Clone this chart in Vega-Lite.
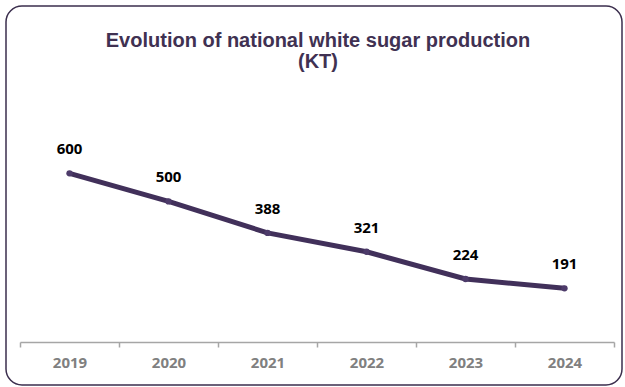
{
  "$schema": "https://vega.github.io/schema/vega-lite/v6.json",
  "width": 616,
  "height": 379,
  "autosize": {"type": "none"},
  "padding": {"left": 6, "top": 6, "right": 3, "bottom": 2},
  "background": "white",
  "view": {"stroke": "#3b2e4d", "strokeWidth": 1.5, "cornerRadius": 16, "fill": "white"},
  "title": {
    "text": ["Evolution of national white sugar production", "(KT)"],
    "font": "Liberation Sans",
    "fontSize": 20,
    "fontWeight": "bold",
    "color": "#403152",
    "anchor": "middle",
    "offset": -66,
    "lineHeight": 21,
    "dx": 4
  },
  "data": {
    "values": [
      {"year": "2019", "value": 600},
      {"year": "2020", "value": 500},
      {"year": "2021", "value": 388},
      {"year": "2022", "value": 321},
      {"year": "2023", "value": 224},
      {"year": "2024", "value": 191}
    ]
  },
  "encoding": {
    "x": {
      "field": "year",
      "type": "ordinal",
      "bandPosition": 0.5,
      "scale": {"type": "band", "range": [14, 608], "paddingInner": 0, "paddingOuter": 0},
      "axis": {
        "title": null,
        "tickBand": "extent",
        "grid": false,
        "labelAngle": 0,
        "domainColor": "#a6a6a6",
        "domainWidth": 1.5,
        "tickColor": "#a6a6a6",
        "tickWidth": 1.5,
        "tickSize": 5,
        "labelFont": "Open Sans",
        "labelFontSize": 15,
        "labelFontWeight": "bold",
        "labelColor": "#808080",
        "labelPadding": 8,
        "offset": -43
      }
    },
    "y": {
      "field": "value",
      "type": "quantitative",
      "scale": {"domain": [0, 1195], "range": [336, 0]},
      "axis": null
    }
  },
  "layer": [
    {"mark": {"type": "line", "color": "#41305a", "strokeWidth": 5}},
    {"mark": {"type": "point", "filled": true, "size": 40, "color": "#4d3b6a", "opacity": 1}},
    {
      "mark": {"type": "text", "dy": -24, "baseline": "middle", "align": "center", "font": "Open Sans", "fontSize": 15, "fontWeight": "bold", "color": "#000000"},
      "encoding": {"text": {"field": "value", "type": "quantitative"}}
    }
  ]
}
